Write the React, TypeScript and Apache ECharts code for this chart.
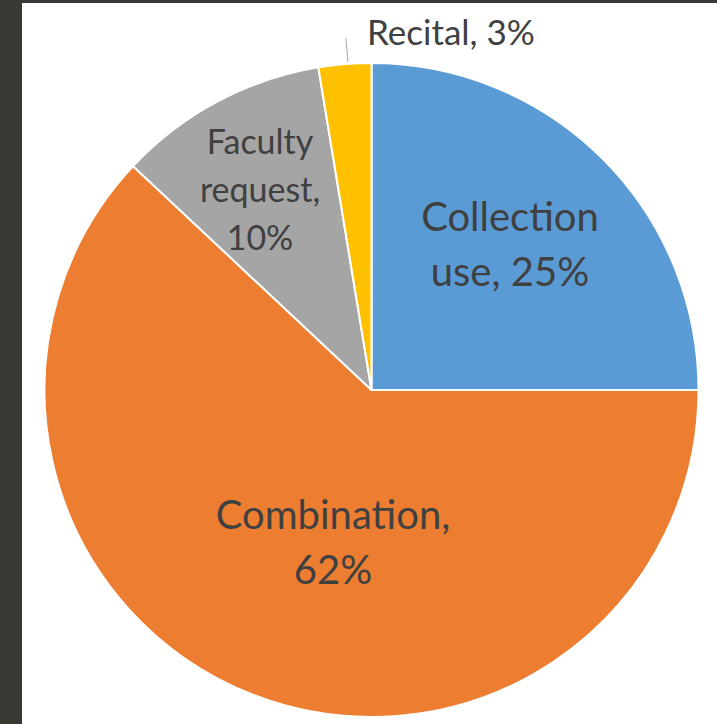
import React, { useEffect, useRef } from "react";
import * as echarts from "echarts";

const categories = ["Collection use", "Combination", "Faculty request", "Recital"];
const values = [25, 62, 10.4, 2.6];
const colors = ["#5b9bd5", "#ed7d31", "#a5a5a5", "#ffc000"];
// how each label wraps, as in the reference
const wrapped = ["Collection\nuse,", "Combination,\n", "Faculty\nrequest,\n", "Recital,"];

export default function App() {
  const ref = useRef<HTMLDivElement>(null);
  useEffect(() => {
    if (!ref.current) return;
    const chart = echarts.init(ref.current, null, { renderer: "svg" });
    const labelPos: Record<number, any> = {
      0: { x: 488, y: 240, align: "center", verticalAlign: "middle" },
      1: { x: 311, y: 538, align: "center", verticalAlign: "middle" },
      2: { x: 238, y: 185, align: "center", verticalAlign: "middle" },
      3: { x: 345, y: 28, align: "left", verticalAlign: "middle" },
    };
    const fontSizes = [40, 40, 34, 35];
    const lineHeights = [55, 55, 48, 40];
    chart.setOption({
      animation: false,
      backgroundColor: "#ffffff",
      series: [
        {
          type: "pie",
          center: [349.5, 387],
          radius: 327,
          startAngle: 90,
          clockwise: true,
          data: categories.map((name, i) => ({
            name,
            value: values[i],
            itemStyle: { color: colors[i] },
            label: {
              position: i === 3 ? "outside" : "inside",
              fontSize: fontSizes[i],
              lineHeight: lineHeights[i],
            },
            labelLine: { show: i === 3 },
          })),
          itemStyle: { borderColor: "#ffffff", borderWidth: 2 },
          label: {
            show: true,
            color: "#404040",
            fontFamily: "Lato, 'Open Sans', sans-serif",
            align: "center",
            formatter: (p: any) => {
              const w = wrapped[p.dataIndex];
              const sep = w.endsWith("\n") ? "" : " ";
              return w + sep + Math.round(p.percent) + "%";
            },
          },
          labelLine: {
            show: true,
            length: 10,
            length2: 0,
            lineStyle: { color: "#a6a6a6", width: 1 },
          },
          labelLayout: (params: any) => {
            const i = params.dataIndex;
            const res: any = { ...labelPos[i] };
            if (i === 3 && params.labelLinePoints) {
              const p0 = params.labelLinePoints[0];
              res.labelLinePoints = [
                [p0[0] + 3, p0[1] - 2],
                [p0[0] + 2, 46],
                [p0[0] + 1, 35],
              ];
            }
            return res;
          },
        },
      ],
    });
    return () => chart.dispose();
  }, []);
  return (
    <div
      style={{
        position: "fixed",
        left: 0,
        top: 0,
        width: 717,
        height: 724,
        background: "#3a3a35",
      }}
    >
      <div
        ref={ref}
        style={{
          position: "absolute",
          left: 22,
          top: 3,
          width: 695,
          height: 721,
          background: "#ffffff",
        }}
      />
    </div>
  );
}
